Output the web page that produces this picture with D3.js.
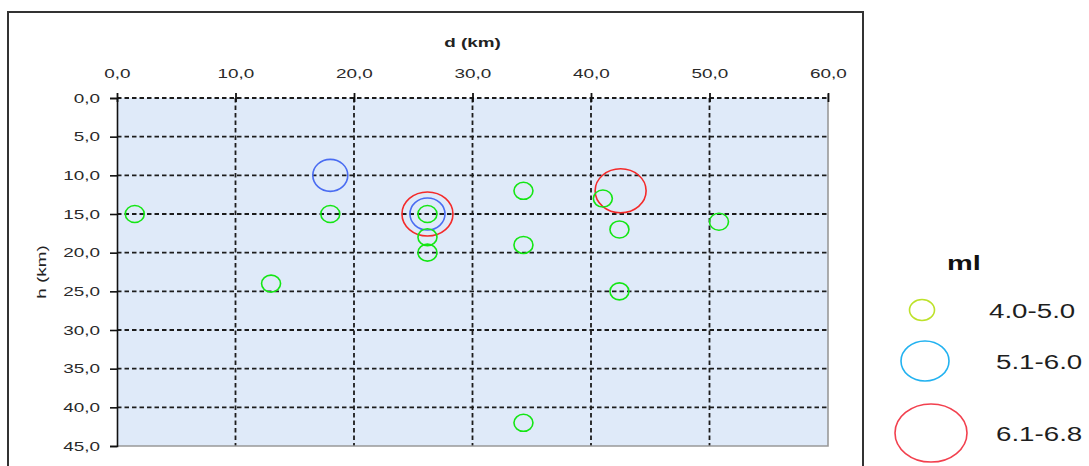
<!DOCTYPE html>
<html><head><meta charset="utf-8">
<script src="https://cdn.jsdelivr.net/npm/d3@7"></script>
<style>
html,body{margin:0;padding:0;background:#fff;}
svg{display:block;}
</style></head>
<body>
<svg id="chart" width="1089" height="466"></svg>
<script>
// ---- data ----
const xTicks = [0, 10, 20, 30, 40, 50, 60];
const yTicks = [0, 5, 10, 15, 20, 25, 30, 35, 40, 45];
const magClasses = ["4.0-5.0", "5.1-6.0", "6.1-6.8"];
const legendTitle = "ml";
const xTitle = "d (km)";
const yTitle = "h (km)";
// events: distance d (km), depth h (km), magnitude class index
const eventD = [1.5, 18.0, 26.2, 26.2, 26.2, 13.0, 34.3, 41.0, 42.4, 50.8, 34.3, 42.4, 34.3, 18.0, 26.2, 26.2, 42.5];
const eventH = [15, 15, 15, 18, 20, 24, 12, 13, 17, 16, 19, 25, 42, 10, 15, 15, 12];
const eventClass = [0, 0, 0, 0, 0, 0, 0, 0, 0, 0, 0, 0, 0, 1, 1, 2, 2];

// ---- styles ----
const plotColors = ["#14e614", "#4a6cf2", "#f42a2a"];
const legendColors = ["#bde22a", "#22b2f0", "#f2404e"];
const plotR = [[9.5, 8.5], [17.5, 16], [25.5, 22]];
const legendR = [[12.5, 10.5], [24, 20], [36, 29]];
const SX = 1.4; // horizontal stretch of the original's text
const FONT = "Liberation Sans, Arial, sans-serif";

const svg = d3.select("#chart");
const fmt = d => d.toFixed(1).replace(".", ",");
function stretch(sel, s) {
  sel.attr("transform", function () {
    const xx = +this.getAttribute("x") || 0;
    return `translate(${xx * (1 - s)},0) scale(${s},1)`;
  });
}

// outer frame
svg.append("rect").attr("x", 8).attr("y", 12).attr("width", 855).attr("height", 470)
  .attr("fill", "none").attr("stroke", "#333").attr("stroke-width", 2);

const x = d3.scaleLinear().domain([0, 60]).range([117, 828]);
const y = d3.scaleLinear().domain([0, 45]).range([98, 446]);

// plot background
svg.append("rect").attr("x", x(0)).attr("y", y(0))
  .attr("width", x(60) - x(0)).attr("height", y(45) - y(0))
  .attr("fill", "#dfeaf9");

// gridlines
const grid = svg.append("g").attr("stroke", "#1c1c1c").attr("stroke-width", 1.8)
  .attr("stroke-dasharray", "4.5,3");
grid.selectAll("line.h").data(yTicks.filter(t => t < 45)).join("line")
  .attr("x1", x(0)).attr("x2", x(60)).attr("y1", d => y(d)).attr("y2", d => y(d));
grid.selectAll("line.v").data(xTicks.filter(t => t > 0 && t < 60)).join("line")
  .attr("class", "v")
  .attr("y1", y(0)).attr("y2", y(45)).attr("x1", d => x(d)).attr("x2", d => x(d));

// right & bottom border (gray)
svg.append("path")
  .attr("d", `M${x(60)},${y(0) - 4} V${y(45)} H${x(0)}`)
  .attr("fill", "none").attr("stroke", "#999").attr("stroke-width", 1.6);

// left axis (y)
const yAxis = svg.append("g").attr("transform", `translate(${x(0)},0)`)
  .call(d3.axisLeft(y).tickValues(yTicks).tickFormat(fmt).tickSize(7).tickPadding(10));
yAxis.select(".domain").attr("stroke", "#111").attr("stroke-width", 1.6);
yAxis.selectAll(".tick line").attr("stroke", "#111").attr("stroke-width", 1.6);
yAxis.selectAll("text").attr("font-family", FONT)
  .attr("font-size", 13.5).attr("fill", "#2a2a2a").call(stretch, SX);

// top axis (x)
const xAxis = svg.append("g").attr("transform", `translate(0,${y(0)})`)
  .call(d3.axisTop(x).tickValues(xTicks).tickFormat(fmt).tickSize(5).tickPadding(15));
xAxis.select(".domain").remove();
xAxis.selectAll(".tick line").attr("stroke", "#111").attr("stroke-width", 1.8).attr("y2", -5).attr("y1", 4);
xAxis.selectAll("text").attr("font-family", FONT)
  .attr("font-size", 13.5).attr("fill", "#2a2a2a").call(stretch, SX);

// axis titles
svg.append("text").attr("x", 0).attr("y", 0)
  .attr("transform", `translate(${(x(0) + x(60)) / 2},47) scale(${SX},1)`)
  .attr("text-anchor", "middle").attr("font-family", FONT)
  .attr("font-size", 13.5).attr("font-weight", "bold").attr("fill", "#222").text(xTitle);
svg.append("text").attr("transform", `translate(46,${(y(0) + y(45)) / 2}) rotate(-90) scale(${SX},1)`)
  .attr("text-anchor", "middle").attr("font-family", FONT)
  .attr("font-size", 13.5).attr("fill", "#222").text(yTitle);

// events (largest first)
const events = eventD.map((d, i) => ({ d, h: eventH[i], c: eventClass[i] }))
  .sort((a, b) => b.c - a.c);
svg.append("g").selectAll("ellipse").data(events).join("ellipse")
  .attr("cx", e => x(e.d)).attr("cy", e => y(e.h))
  .attr("rx", e => plotR[e.c][0]).attr("ry", e => plotR[e.c][1])
  .attr("fill", "none").attr("stroke", e => plotColors[e.c]).attr("stroke-width", 1.6);

// legend
const leg = svg.append("g");
leg.append("text").attr("x", 947).attr("y", 270)
  .attr("font-family", FONT).attr("font-size", 20)
  .attr("font-weight", "bold").attr("fill", "#111").text(legendTitle).call(stretch, 1.45);
const legCx = [922, 925, 931];
const legCy = [310, 361, 433];
const legTx = [989, 996, 996];
const legItems = leg.selectAll("g.item").data(magClasses).join("g").attr("class", "item");
legItems.append("ellipse")
  .attr("cx", (d, i) => legCx[i]).attr("cy", (d, i) => legCy[i])
  .attr("rx", (d, i) => legendR[i][0]).attr("ry", (d, i) => legendR[i][1])
  .attr("fill", "none").attr("stroke", (d, i) => legendColors[i]).attr("stroke-width", 1.6);
legItems.append("text")
  .attr("x", (d, i) => legTx[i]).attr("y", (d, i) => legCy[i] + 8)
  .attr("font-family", FONT).attr("font-size", 21)
  .attr("fill", "#1e1e1e").text(d => d).call(stretch, 1.32);
</script>
</body></html>
